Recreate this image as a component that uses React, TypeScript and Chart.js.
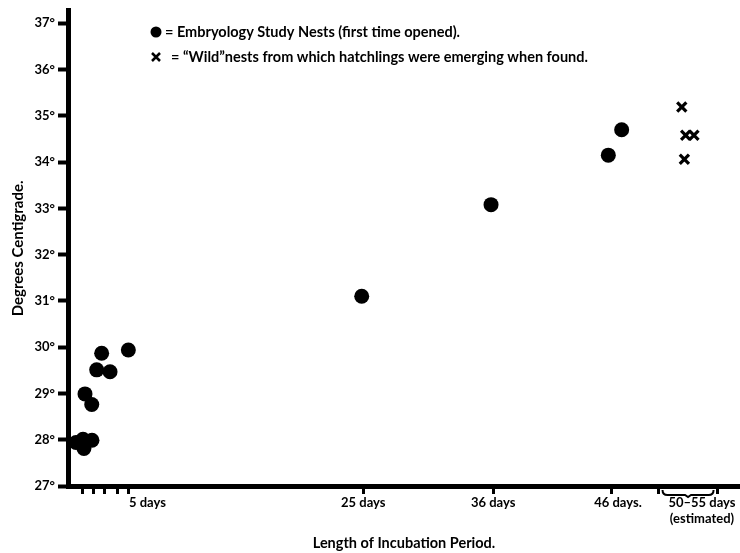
import React, { useEffect, useRef } from "react";
import { Chart, registerables } from "chart.js";

Chart.register(...registerables);

// Embryology Study Nests (first time opened)
const embryoDays = [0.68, 1.27, 1.35, 2.03, 1.44, 2.01, 2.43, 3.56, 2.85, 5.11, 24.87, 35.82, 45.75, 46.88];
const embryoTemps = [27.94, 28.01, 27.81, 27.99, 28.99, 28.76, 29.51, 29.47, 29.87, 29.94, 31.1, 33.08, 34.15, 34.7];

// "Wild" nests
const wildDays = [51.97, 52.3, 53.0, 52.19];
const wildTemps = [35.19, 34.58, 34.58, 34.06];

const yTickValues = [27, 28, 29, 30, 31, 32, 33, 34, 35, 36, 37];
const xTickMarks = [1.2, 2.2, 3.1, 4.15, 5.1, 25, 36, 46, 50, 55];
const xLabelDays = [6.73, 25, 36, 46.57, 53.68];
const xLabelTexts: string[][] = [["5 days"], ["25 days"], ["36 days"], ["46 days."], ["50–55 days", "(estimated)"]];
const braceRange = [50, 55];

const legendTexts = [
  "= Embryology Study Nests (first time opened).",
  "= “Wild”nests from which hatchlings were emerging when found.",
];
const yTitle = "Degrees Centigrade.";
const xTitle = "Length of Incubation Period.";

const FONT = "Lato, 'DejaVu Sans', sans-serif";

const near = (a: number, b: number) => Math.abs(a - b) < 1e-6;

const extrasPlugin = {
  id: "extras",
  afterDraw(chart: any) {
    const ctx = chart.ctx;
    const xs = chart.scales.x;
    const bottom = chart.chartArea.bottom;
    ctx.save();
    ctx.fillStyle = "#000";
    ctx.strokeStyle = "#000";

    // brace under 50-55 days
    const x1 = xs.getPixelForValue(braceRange[0]) + 4;
    const x2 = xs.getPixelForValue(braceRange[1]) - 4;
    const xm = (x1 + x2) / 2;
    const y0 = bottom + 4;
    const y1 = bottom + 9;
    ctx.lineWidth = 2;
    ctx.beginPath();
    ctx.moveTo(x1, y0);
    ctx.quadraticCurveTo(x1, y1, x1 + 5, y1);
    ctx.lineTo(xm - 3, y1);
    ctx.lineTo(xm, y1 + 2);
    ctx.lineTo(xm + 3, y1);
    ctx.lineTo(x2 - 5, y1);
    ctx.quadraticCurveTo(x2, y1, x2, y0);
    ctx.stroke();

    // legend
    ctx.beginPath();
    ctx.arc(156, 32, 5.5, 0, Math.PI * 2);
    ctx.fill();
    ctx.lineWidth = 2.5;
    ctx.beginPath();
    ctx.moveTo(152, 53);
    ctx.lineTo(160, 61);
    ctx.moveTo(160, 53);
    ctx.lineTo(152, 61);
    ctx.stroke();

    ctx.font = `bold 14.5px ${FONT}`;
    ctx.textBaseline = "middle";
    ctx.textAlign = "left";
    ctx.fillText(legendTexts[0], 165, 32);
    ctx.fillText(legendTexts[1], 171, 57);
    ctx.restore();
  },
};

export default function App() {
  const ref = useRef<HTMLCanvasElement | null>(null);

  useEffect(() => {
    document.body.style.margin = "0";
    const canvas = ref.current;
    if (!canvas) return;

    const allXTicks = Array.from(new Set([...xTickMarks, ...xLabelDays])).sort((a, b) => a - b);

    const chart = new Chart(canvas, {
      type: "scatter",
      data: {
        datasets: [
          {
            label: "Embryology Study Nests (first time opened)",
            data: embryoDays.map((d, i) => ({ x: d, y: embryoTemps[i] })),
            pointStyle: "circle",
            pointRadius: 7.5,
            pointHoverRadius: 7.5,
            borderWidth: 0,
            backgroundColor: "#000",
            borderColor: "#000",
          },
          {
            label: "“Wild” nests",
            data: wildDays.map((d, i) => ({ x: d, y: wildTemps[i] })),
            pointStyle: "crossRot",
            pointRadius: 6.5,
            pointHoverRadius: 6.5,
            borderWidth: 3.2,
            backgroundColor: "#000",
            borderColor: "#000",
          },
        ],
      },
      options: {
        animation: false,
        responsive: false,
        devicePixelRatio: 1,
        layout: { autoPadding: false, padding: { top: 8, left: 0, right: 0, bottom: 0 } },
        plugins: {
          legend: { display: false },
          tooltip: { enabled: false },
        },
        scales: {
          x: {
            type: "linear",
            min: 0,
            max: 56.9,
            afterFit: (s: any) => {
              s.height = 67;
            },
            afterBuildTicks: (s: any) => {
              s.ticks = allXTicks.map((v) => ({ value: v }));
            },
            border: { display: true, color: "#000", width: 5 },
            grid: {
              display: true,
              drawOnChartArea: false,
              drawTicks: true,
              tickLength: 8,
              tickWidth: 3,
              tickColor: (ctx: any) =>
                ctx.tick && xTickMarks.some((m) => near(m, ctx.tick.value)) ? "#000" : "rgba(0,0,0,0)",
            },
            ticks: {
              autoSkip: false,
              maxRotation: 0,
              minRotation: 0,
              padding: 1,
              color: "#000",
              font: { family: FONT, size: 13, weight: "bold", lineHeight: 1.2 },
              callback: (value: any) => {
                const i = xLabelDays.findIndex((d) => near(d, Number(value)));
                if (i < 0) return "";
                const t = xLabelTexts[i];
                return t.length === 1 ? t[0] : t;
              },
            },
            title: {
              display: true,
              text: xTitle,
              color: "#000",
              font: { family: FONT, size: 14.5, weight: "bold", lineHeight: 1.2 },
              padding: { top: 0, bottom: 1 },
            },
          },
          y: {
            type: "linear",
            min: 27,
            max: 37.27,
            afterFit: (s: any) => {
              s.width = 68;
            },
            afterBuildTicks: (s: any) => {
              s.ticks = yTickValues.map((v) => ({ value: v }));
            },
            border: { display: true, color: "#000", width: 5 },
            grid: {
              display: true,
              drawOnChartArea: false,
              drawTicks: true,
              tickLength: 10,
              tickWidth: 4,
              tickColor: "#000",
            },
            ticks: {
              padding: 3,
              color: "#000",
              font: { family: FONT, size: 13, weight: "bold" },
              callback: (value: any) => `${value}°`,
            },
            title: {
              display: true,
              text: yTitle,
              color: "#000",
              font: { family: FONT, size: 15, weight: "bold", lineHeight: 1.2 },
              padding: { top: 9, bottom: 0 },
            },
          },
        },
      },
      plugins: [extrasPlugin],
    } as any);

    return () => chart.destroy();
  }, []);

  return (
    <div style={{ width: 740, height: 553, background: "#fff" }}>
      <canvas ref={ref} width={740} height={553} style={{ display: "block" }} />
    </div>
  );
}
